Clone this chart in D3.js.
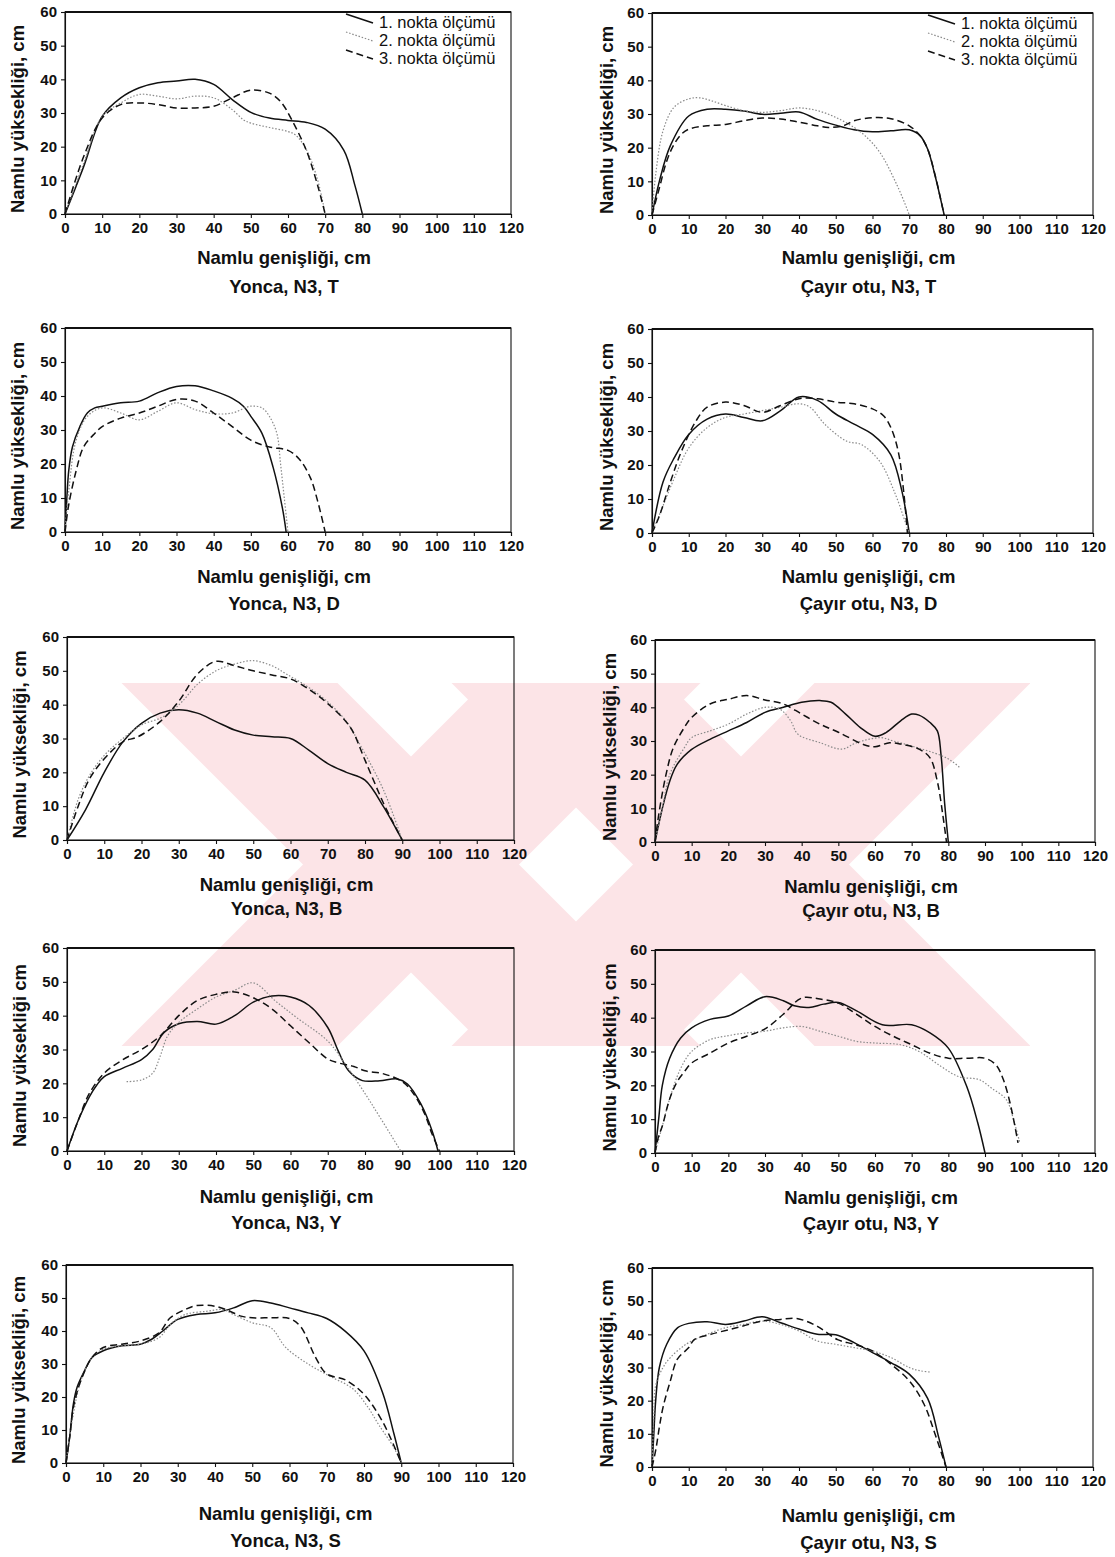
<!DOCTYPE html>
<html>
<head>
<meta charset="utf-8">
<script src="https://cdn.jsdelivr.net/npm/d3@7"></script>
<style>
    body { margin: 0; background: #fff; }
    svg text { font-family: "Liberation Sans", Arial, sans-serif; fill: #111; }
</style>
</head>
<body>
<svg id="figure" width="1115" height="1557"></svg>
<script>
// ticks and texts
var xTicks = [0, 10, 20, 30, 40, 50, 60, 70, 80, 90, 100, 110, 120];
var yTicks = [0, 10, 20, 30, 40, 50, 60];
var seriesNames = ["1. nokta ölçümü", "2. nokta ölçümü", "3. nokta ölçümü"];
var xTitle = "Namlu genişliği, cm";
var panelTitles = ["Yonca, N3, T", "Çayır otu, N3, T", "Yonca, N3, D", "Çayır otu, N3, D",
    "Yonca, N3, B", "Çayır otu, N3, B", "Yonca, N3, Y", "Çayır otu, N3, Y",
    "Yonca, N3, S", "Çayır otu, N3, S"];
var yTitles = ["Namlu yüksekliği, cm", "Namlu yüksekliği, cm", "Namlu yüksekliği, cm", "Namlu yüksekliği, cm",
    "Namlu yüksekliği, cm", "Namlu yüksekliği, cm", "Namlu yüksekliği cm", "Namlu yüksekliği, cm",
    "Namlu yüksekliği, cm", "Namlu yüksekliği, cm"];

var yoncaT_1 = [[0,0],[5,14],[10,29],[15,34.5],[20,37.5],[25,39],[30,39.5],[35,40],[40,38.5],[45,34],[50,30.2],[55,28.5],[60,27.8],[65,27.2],[70,25.2],[75,19],[78,8.5],[80,0]];
var yoncaT_2 = [[0,0],[5,15],[10,29],[15,33],[20,35.5],[25,35],[30,34.2],[35,35],[40,34.5],[45,31],[48,28],[50,27],[55,25.7],[60,24.5],[62,23.5],[65,19],[68,10],[70,0]];
var yoncaT_3 = [[0,0],[5,17],[10,28.5],[15,32.5],[20,33],[25,32.5],[30,31.5],[35,31.5],[40,32],[45,34.5],[50,36.8],[55,35.9],[58,33.4],[61,28],[65,18.7],[68,8.4],[70,0]];

var cayirT_1 = [[0,0],[2,10],[5,20.6],[10,29.4],[15,31.4],[20,31.4],[25,30.9],[30,29.9],[35,30.2],[40,30.6],[45,28.4],[50,26.7],[55,25.3],[60,24.7],[65,25],[70,25.3],[73,23.5],[75,19.6],[77,11.8],[79,2.5],[79.5,0]];
var cayirT_2 = [[0,0],[1,12],[3,25],[6,32],[10,34.5],[13,34.8],[16,34],[20,32.5],[25,31],[30,30.5],[35,31],[40,31.8],[45,31],[50,29],[55,26],[58,23.5],[62,18.6],[66.7,8.8],[69.5,1.5],[70,0]];
var cayirT_3 = [[0,0],[2,8],[4,16],[6,21],[8,24],[10,25.5],[15,26.5],[20,26.9],[25,28],[30,28.8],[35,28.5],[40,27.6],[45,26.5],[48,26],[52,26.5],[55,28],[60,28.9],[65,28.6],[70,26.5],[73,23.5],[75,19.6],[77,12],[79,2.5],[79.5,0]];

var yoncaD_1 = [[0,0],[0.5,10],[1,18],[2,25],[4,31],[6,35],[8,36.5],[10,37],[15,38],[20,38.5],[25,41],[30,42.8],[35,43],[40,41.5],[45,39.3],[48,37],[50,34],[53,29],[56,19],[58.5,7],[59.5,0]];
var yoncaD_2 = [[0,0],[1,12],[3,27],[6,34],[10,36.5],[15,35],[20,33],[25,35.5],[30,38],[35,36],[40,34.8],[45,35],[50,37],[53,36.5],[55,34],[57,29],[58,20],[59,10],[60,0]];
var yoncaD_3 = [[0,0],[1,8],[3,18],[5,25],[8,29],[10,31],[15,33.5],[20,35],[25,37],[30,39],[35,38.5],[40,35],[45,31],[50,27],[55,25],[60,24],[63,21.5],[66,16],[68,9],[70,0]];

var cayirD_1 = [[0,0],[3,15],[6,22],[10,29],[15,33.5],[20,35],[25,34],[30,33],[35,36],[40,40],[45,39],[50,35],[55,32],[60,29],[65,23],[68,12.3],[70,0]];
var cayirD_2 = [[0,0],[3,8],[6,16],[10,25],[15,31],[20,34],[25,35],[30,36],[35,37],[40,38],[43,37],[47,32],[53,27],[57,26],[62,21],[66,12],[69,3],[70,0]];
var cayirD_3 = [[0,0],[2,5],[5,15],[8,24],[12,33],[15,37],[20,38.5],[25,37.5],[30,35.5],[35,37.5],[40,39.5],[45,39.5],[50,38.5],[55,38],[60,36.5],[63,34.5],[65,31],[67,24],[68.5,12],[69.5,0]];

var yoncaB_1 = [[0,0],[5,9],[10,20],[15,29],[20,34.5],[25,37.5],[30,38.5],[35,37.5],[40,35],[45,32.5],[50,31],[55,30.5],[60,30],[65,26.5],[70,22.6],[75,20],[80,17.7],[85,9.8],[88,4],[90,0]];
var yoncaB_2 = [[0,0],[3,12],[6,19],[10,25],[15,30],[20,34],[25,36],[28,38],[31,41],[35,46],[40,50],[45,52],[50,53],[55,51.5],[59,49],[65,45],[70,40.8],[75,35],[79,27.5],[85,14.7],[90,0]];
var yoncaB_3 = [[0,0],[3,10],[6,18],[10,24],[15,29],[19,30.5],[25,35],[30,41],[35,49],[40,52.8],[45,51.5],[50,50],[55,48.8],[60,47.6],[65,44.5],[70,40.3],[76,33.4],[80,23.6],[85,10.8],[90,0]];

var cayirB_1 = [[0,0],[2,10],[4,18],[6,23],[10,27.5],[15,30.5],[20,33],[25,35.5],[30,38.5],[35,40],[40,41.5],[45,42],[48,41.5],[52,38],[56,34],[60,31.4],[63,32.5],[67,36],[70,38],[72,37.7],[75,35.5],[77,33],[78,26],[79,11.4],[80,0]];
var cayirB_2 = [[0,0],[2,10],[4,20],[8,28],[10,31],[15,33],[20,35],[25,38],[30,40],[34,39.5],[37,36],[39,32],[45,29.5],[51,27.6],[55,29.5],[61.5,31],[65,30],[70,28.5],[78,25.7],[81,24],[83,22.2]];
var cayirB_3 = [[0,0],[1,8],[3,20],[5,28],[8,34],[10,37],[15,41],[20,42.4],[25,43.5],[30,42.2],[35,41],[40,38],[45,35],[50,32.6],[57,28.9],[60,28.3],[64,29.5],[67,29.1],[72,27.6],[75,25],[77,18],[78.5,8],[79.5,0]];

var yoncaY_1 = [[0,0],[3,9],[6,16],[8,19.5],[10,22],[15,24.5],[20,27],[23,30],[26,35],[30,37.6],[35,38.3],[40,37.5],[45,40],[50,44],[55,45.8],[60,45.5],[65,43],[70,36.5],[72.8,29.6],[75.6,23.7],[79.3,20.8],[84,20.8],[88.7,21.3],[91.4,19.8],[95,13.9],[98,6],[99.6,0]];
var yoncaY_2 = [[16,20.5],[20,21],[23,23],[25,28],[27,34],[30,38],[35,42],[40,45.5],[45,47.5],[50,49.7],[56,44.3],[61.7,39.4],[70,32.5],[74.7,25.7],[80,17],[84,10],[89.6,0]];
var yoncaY_3 = [[0,0],[3,9],[6,17],[10,23],[15,27],[20,30],[25,34],[30,40],[35,44.5],[40,46.3],[45,47],[50,45.3],[55,42],[60,37],[65,32],[70,27.2],[73,26],[77,25],[80,23.7],[85,22.8],[90,20.5],[93,17],[96,11],[98,5],[100,0]];

var cayirY_1 = [[0,0],[1,10],[2,20],[4,28],[7,34],[10,37],[15,39.5],[20,40.5],[25,43.5],[30,46.2],[35,45],[38,43.5],[42,43],[46,44],[50,44.5],[55,42],[62,37.9],[70,37.9],[75,35.5],[80,31],[85,19.7],[88,9],[90,0]];
var cayirY_2 = [[0,0],[2,8],[4,16],[7,25],[10,30],[15,33.5],[19,34.5],[25,35.5],[30,36],[35,37],[40,37.4],[45,36],[50,34.5],[55,33],[60,32.5],[67,32],[72,30],[78,25.6],[83,22.5],[88.4,21.7],[92,19],[95.8,15.8],[98,9],[99.5,3]];
var cayirY_3 = [[0,0],[1,5],[2,8],[4,16],[6,21],[8,24],[10,26.6],[15,29.5],[20,32.5],[25,34.5],[30,36.7],[35,41],[40,45.8],[45,45.5],[50,44.3],[55,41],[60,37.4],[65,34.5],[70,32],[75,29.5],[80,28],[85,28],[90,28],[93,26],[95,21.7],[97,14],[99,3]];

var yoncaS_1 = [[0,0],[1,8],[2,18],[3,23],[5,28],[7,32],[10,34],[15,35.5],[20,36],[23,37.5],[26,40],[30,43.5],[35,45],[40,45.5],[45,47],[50,49.2],[55,48.5],[60,47],[65,45.5],[70,43.8],[75,39.9],[80,34],[85,21.3],[88,9],[90,0]];
var yoncaS_2 = [[0,0],[2,15],[4,25],[7,32],[10,34.5],[15,35.5],[20,36],[25,38],[28,42],[32,45],[38,46],[42,46.5],[45,45],[50,42.5],[55,41],[59,35],[65,30],[71,26.2],[77,22.5],[81,17],[84,11.5],[88,4.7],[90,0]];
var yoncaS_3 = [[0,0],[1,8],[2,17],[4,25],[7,32],[10,35],[15,36],[20,37],[25,39.5],[28,44],[32,46.5],[35,47.7],[40,47.5],[44,46],[47,44.5],[50,44],[55,44],[60,43.8],[63,41.3],[67,32],[70,27],[75,25.2],[80,20.8],[85,12.5],[90,0]];

var cayirS_1 = [[0,0],[0.5,10],[1,20],[2,30],[4,37],[7,42],[10,43.3],[15,43.8],[20,43],[25,44],[30,45.3],[35,43.5],[40,41.6],[45,40],[50,39.9],[55,37.5],[60,34.5],[65,31.5],[70,28],[75,20.7],[78,9],[80,0]];
var cayirS_2 = [[0,0],[0.5,15],[1,24.6],[3,30],[5,33],[8,36],[10,37.5],[15,40],[20,42],[25,43],[30,44],[35,43],[40,41],[45,38],[50,37],[55,36],[60,35],[65,33],[70,30],[73,29],[76,28.6]];
var cayirS_3 = [[0,0],[1,5],[2,12],[3,18],[5,26],[6.9,32.5],[10,36],[11.5,38.4],[16,40],[22.7,41.9],[30,44],[35,44.5],[39.4,44.8],[45,42.4],[50.5,38.4],[55,37],[60,35],[65,31],[70,26],[74,19],[77,10],[80,0]];

var panelSeries = [
    [yoncaT_1, yoncaT_2, yoncaT_3], [cayirT_1, cayirT_2, cayirT_3],
    [yoncaD_1, yoncaD_2, yoncaD_3], [cayirD_1, cayirD_2, cayirD_3],
    [yoncaB_1, yoncaB_2, yoncaB_3], [cayirB_1, cayirB_2, cayirB_3],
    [yoncaY_1, yoncaY_2, yoncaY_3], [cayirY_1, cayirY_2, cayirY_3],
    [yoncaS_1, yoncaS_2, yoncaS_3], [cayirS_1, cayirS_2, cayirS_3]
];

// page layout of the ten plot frames
var boxes = [
    {left: 65, right: 511, top: 12, bottom: 214, titleY: 264, subY: 293, yTitleX: 24, legend: true},
    {left: 652, right: 1093, top: 13, bottom: 215, titleY: 264, subY: 293, yTitleX: 613, legend: true},
    {left: 65, right: 511, top: 328, bottom: 532, titleY: 583, subY: 610, yTitleX: 24},
    {left: 652, right: 1093, top: 329, bottom: 533, titleY: 583, subY: 610, yTitleX: 613},
    {left: 67, right: 514, top: 637, bottom: 840, titleY: 891, subY: 915, yTitleX: 26},
    {left: 655, right: 1095, top: 640, bottom: 842, titleY: 893, subY: 917, yTitleX: 616},
    {left: 67, right: 514, top: 948, bottom: 1151, titleY: 1203, subY: 1229, yTitleX: 26},
    {left: 655, right: 1095, top: 950, bottom: 1153, titleY: 1204, subY: 1230, yTitleX: 616},
    {left: 66, right: 513, top: 1265, bottom: 1463, titleY: 1520, subY: 1547, yTitleX: 25},
    {left: 652, right: 1093, top: 1268, bottom: 1467, titleY: 1522, subY: 1549, yTitleX: 613}
];

var lineStyles = [
    {stroke: "#111", width: 1.5, dash: null},
    {stroke: "#8a8a8a", width: 1.2, dash: "1.5,1.8"},
    {stroke: "#111", width: 1.5, dash: "7,4"}
];

var svg = d3.select("#figure");

drawWatermark();
panelSeries.forEach(function(series, i) {
    drawPanel(i, series, boxes[i]);
});

function drawWatermark() {
    // faint pink "XX" stamp behind the middle rows
    var top = 683, bottom = 1046, cy = (top + bottom) / 2, w = 108;
    var centers = [411, 741];
    var defs = svg.append("defs");
    defs.append("clipPath").attr("id", "wmClip")
        .append("rect").attr("x", 86).attr("y", top).attr("width", 944).attr("height", bottom - top);
    var wm = svg.append("g").attr("clip-path", "url(#wmClip)").attr("fill", "#fce4e7");
    centers.forEach(function(cx) {
        var a = top - cy, b = bottom - cy;
        wm.append("polygon").attr("points", [
            [cx + a - w, top], [cx + a + w, top], [cx + b + w, bottom], [cx + b - w, bottom]].join(" "));
        wm.append("polygon").attr("points", [
            [cx - a - w, top], [cx - a + w, top], [cx - b + w, bottom], [cx - b - w, bottom]].join(" "));
    });
}

function drawPanel(i, series, box) {
    var x = d3.scaleLinear().domain([0, 120]).range([box.left, box.right]);
    var y = d3.scaleLinear().domain([0, 60]).range([box.bottom, box.top]);
    var g = svg.append("g");

    svg.select("defs").append("clipPath").attr("id", "clip" + i)
        .append("rect").attr("x", box.left - 2).attr("y", box.top - 2)
        .attr("width", box.right - box.left + 4).attr("height", box.bottom - box.top + 2);

    // Add X axis
    var xAxis = g.append("g")
        .attr("transform", "translate(0," + box.bottom + ")")
        .call(d3.axisBottom(x).tickValues(xTicks).tickSize(4).tickPadding(4));
    // Add Y axis
    var yAxis = g.append("g")
        .attr("transform", "translate(" + box.left + ",0)")
        .call(d3.axisLeft(y).tickValues(yTicks).tickSize(4).tickPadding(4));
    [xAxis, yAxis].forEach(function(ax) {
        ax.selectAll("path,line").attr("stroke", "#111").attr("stroke-width", 1.1);
        ax.selectAll("text").style("font-size", "15px").style("font-weight", "bold")
            .style("font-family", "'Liberation Sans', Arial, sans-serif").attr("fill", "#111");
    });

    // frame
    g.append("rect")
        .attr("x", box.left).attr("y", box.top)
        .attr("width", box.right - box.left).attr("height", box.bottom - box.top)
        .attr("fill", "none").attr("stroke", "#111").attr("stroke-width", 1.1);
    g.append("line")
        .attr("x1", box.left).attr("x2", box.right).attr("y1", box.top).attr("y2", box.top)
        .attr("stroke", "#111").attr("stroke-width", 1.8);

    // Add the three measurement lines
    var line = d3.line()
        .x(function(d) { return x(d[0]); })
        .y(function(d) { return y(d[1]); })
        .curve(d3.curveCatmullRom.alpha(0.5));
    var lines = g.append("g").attr("clip-path", "url(#clip" + i + ")");
    series.forEach(function(s, k) {
        lines.append("path")
            .attr("d", line(s))
            .attr("fill", "none")
            .attr("stroke", lineStyles[k].stroke)
            .attr("stroke-width", lineStyles[k].width)
            .attr("stroke-dasharray", lineStyles[k].dash);
    });

    // Add axis titles
    g.append("text")
        .attr("x", (box.left + box.right) / 2 - 4)
        .attr("y", box.titleY)
        .attr("text-anchor", "middle")
        .style("font-size", "18.5px").style("font-weight", "bold")
        .text(xTitle);
    g.append("text")
        .attr("x", (box.left + box.right) / 2 - 4)
        .attr("y", box.subY)
        .attr("text-anchor", "middle")
        .style("font-size", "18.5px").style("font-weight", "bold")
        .text(panelTitles[i]);
    g.append("text")
        .attr("transform", "translate(" + box.yTitleX + "," + ((box.top + box.bottom) / 2 + 6) + ") rotate(-90)")
        .attr("text-anchor", "middle")
        .style("font-size", "18.5px").style("font-weight", "bold")
        .text(yTitles[i]);

    if (box.legend) drawLegend(g, box);
}

function drawLegend(g, box) {
    var tx = box.right - 132;
    seriesNames.forEach(function(name, k) {
        var base = box.top + 16 + k * 18;
        g.append("line")
            .attr("x1", tx - 33).attr("y1", base - 14)
            .attr("x2", tx - 6).attr("y2", base - 5)
            .attr("stroke", lineStyles[k].stroke)
            .attr("stroke-width", lineStyles[k].width)
            .attr("stroke-dasharray", lineStyles[k].dash);
        g.append("text")
            .attr("x", tx).attr("y", base)
            .style("font-size", "16.5px")
            .text(name);
    });
}
</script>
</body>
</html>
